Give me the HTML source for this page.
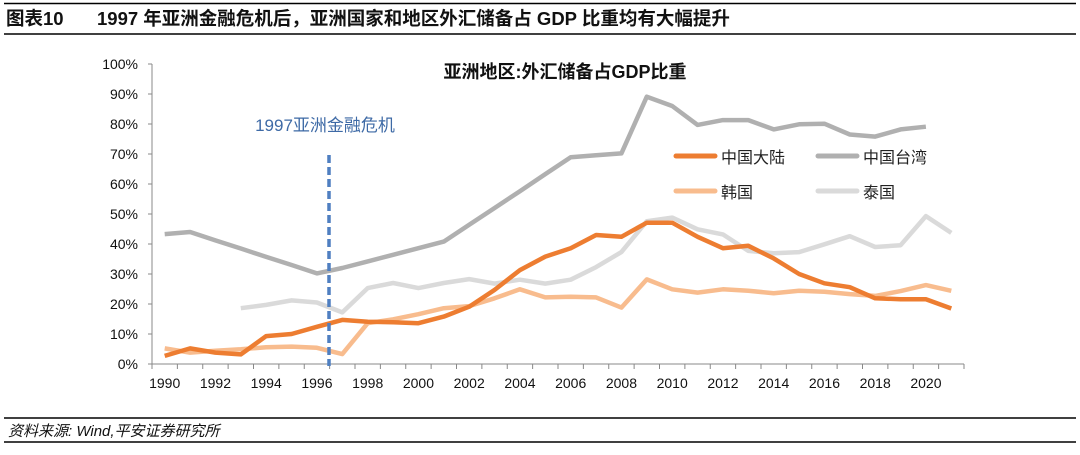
<!DOCTYPE html>
<html><head><meta charset="utf-8"><style>
body{margin:0;width:1080px;height:450px;background:#fff;overflow:hidden;font-family:"Liberation Sans","Noto Sans CJK SC",sans-serif;}
</style></head><body>
<svg id="c" width="1080" height="450" xmlns="http://www.w3.org/2000/svg">
<line x1="4" y1="3.5" x2="1076" y2="3.5" stroke="#000" stroke-width="1.5"/>
<line x1="4" y1="34" x2="1076" y2="34" stroke="#000" stroke-width="1.5"/>
<text x="6" y="25" font-size="18.5" font-weight="bold" fill="#111">图表10</text>
<text x="97" y="25" font-size="18.5" font-weight="bold" fill="#111">1997 年亚洲金融危机后，亚洲国家和地区外汇储备占 GDP 比重均有大幅提升</text>
<text x="565" y="78" font-size="18" font-weight="bold" fill="#111" text-anchor="middle">亚洲地区:外汇储备占GDP比重</text>
<g id="axes"></g>
<g id="series"></g>
<line x1="329" y1="155" x2="329" y2="366" stroke="#4f7fc1" stroke-width="3.5" stroke-dasharray="8,4"/>
<text x="325" y="131" font-size="17" fill="#3e6aa6" text-anchor="middle">1997亚洲金融危机</text>
<g>
<line x1="676" y1="156" x2="715" y2="156" stroke="#ed7d31" stroke-width="5" stroke-linecap="round"/>
<text x="721" y="163" font-size="16" fill="#222">中国大陆</text>
<line x1="818" y1="156" x2="857" y2="156" stroke="#b0b0b0" stroke-width="5" stroke-linecap="round"/>
<text x="863" y="163" font-size="16" fill="#222">中国台湾</text>
<line x1="676" y1="191" x2="715" y2="191" stroke="#f8bc8e" stroke-width="5" stroke-linecap="round"/>
<text x="721" y="198" font-size="16" fill="#222">韩国</text>
<line x1="818" y1="191" x2="857" y2="191" stroke="#dadada" stroke-width="5" stroke-linecap="round"/>
<text x="863" y="198" font-size="16" fill="#222">泰国</text>
</g>
<line x1="4" y1="418" x2="1076" y2="418" stroke="#000" stroke-width="1.5"/>
<line x1="4" y1="442" x2="1076" y2="442" stroke="#000" stroke-width="1.5"/>
<text x="8" y="436" font-size="15" font-style="italic" fill="#111">资料来源: Wind,平安证券研究所</text>
</svg>
<script>
const years = [];for(let y=1990;y<=2021;y++)years.push(y);
const china = [2.7,5.2,3.8,3.2,9.3,10,12.4,14.7,14.1,13.9,13.6,15.8,19.1,24.7,31.3,35.8,38.6,43,42.4,47.1,47.1,42.4,38.6,39.4,35.2,30,26.9,25.6,21.9,21.6,21.6,18.5];
const taiwan = [43.3,44,41.2,38.5,35.7,33,30.2,32,34.2,36.4,38.6,40.8,46.4,52,57.6,63.3,68.9,69.6,70.2,89.1,86,79.7,81.3,81.3,78.2,79.9,80.1,76.5,75.8,78.2,79.1,null];
const korea = [5.2,3.8,4.4,4.9,5.6,5.8,5.4,3.3,13.6,14.9,16.6,18.6,19.3,21.9,24.9,22.2,22.4,22.2,18.8,28.2,24.9,23.8,24.9,24.4,23.6,24.4,24.1,23.3,22.7,24.3,26.3,24.4];
const thailand = [null,null,null,18.6,19.7,21.2,20.5,17.2,25.3,27,25.3,27,28.3,26.8,28.1,26.8,28.1,32.3,37.3,47.6,48.8,44.9,43.2,37.7,36.9,37.3,39.9,42.6,39,39.6,49.3,43.7];
const yTicks = [0,10,20,30,40,50,60,70,80,90,100];
const xLabels = [1990,1992,1994,1996,1998,2000,2002,2004,2006,2008,2010,2012,2014,2016,2018,2020];

const L=152,R=964,T=64,B=364,NS="http://www.w3.org/2000/svg";
const bw=(R-L)/years.length;
const xS=i=>L+bw*(i+0.5);
const yS=v=>B-(v/100)*(B-T);
function mk(tag,attrs,parent){const e=document.createElementNS(NS,tag);for(const k in attrs)e.setAttribute(k,attrs[k]);parent.appendChild(e);return e;}
const ax=document.getElementById('axes');
let e=mk('line',{x1:L,y1:T,x2:L,y2:B,stroke:'#888','stroke-width':1},ax);


e=mk('line',{x1:L,y1:B,x2:R,y2:B,stroke:'#888','stroke-width':1},ax);


yTicks.forEach(v=>{
  const t=mk('line',{x1:L-4,y1:yS(v),x2:L,y2:yS(v),stroke:'#888'},ax);
  
  
  const l=mk('text',{x:L-14,y:yS(v)+5,'font-size':14,'text-anchor':'end',fill:'#111'},ax);
  l.textContent=v+'%';
  
  
});
for(let i=0;i<=years.length;i++){
  const x=L+bw*i;
  const t=mk('line',{x1:x,y1:B,x2:x,y2:B+5,stroke:'#888'},ax);
  
  
}
xLabels.forEach(y=>{
  const l=mk('text',{x:xS(years.indexOf(y)),y:B+24,'font-size':14,'text-anchor':'middle',fill:'#111'},ax);
  l.textContent=y;
  
  
});
const sg=document.getElementById('series');
function line(data,color,name){
  let d='',pen=false;
  data.forEach((v,i)=>{if(v==null){pen=false;return;}d+=(pen?'L':'M')+xS(i).toFixed(1)+','+yS(v).toFixed(1);pen=true;});
  const p=mk('path',{d:d,fill:'none',stroke:color,'stroke-width':4.5,'stroke-linejoin':'round'},sg);
  
  
}
line(thailand,'#dadada','series-thailand');
line(korea,'#f8bc8e','series-korea');
line(taiwan,'#b0b0b0','series-taiwan');
line(china,'#ed7d31','series-china');
</script>
</body></html>
